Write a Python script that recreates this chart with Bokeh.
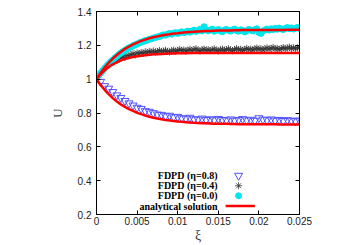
from bokeh.plotting import figure
from bokeh.models import Range1d, LinearAxis, FixedTicker, Label
from bokeh.embed import file_html
from bokeh.resources import INLINE

# ---------------- data ----------------
x_ticks = [0, 0.005, 0.01, 0.015, 0.02, 0.025]
x_tick_labels = ["0", "0.005", "0.01", "0.015", "0.02", "0.025"]
y_ticks = [0.2, 0.4, 0.6, 0.8, 1.0, 1.2, 1.4]
y_tick_labels = ["0.2", "0.4", "0.6", "0.8", "1", "1.2", "1.4"]

# analytical solution, sampled every 0.0005
xi_line = [i * 0.0005 for i in range(51)]
analytic_00 = [1.000, 1.037, 1.069, 1.097, 1.122, 1.143, 1.162, 1.179, 1.193, 1.205,
               1.216, 1.226, 1.234, 1.242, 1.248, 1.253, 1.258, 1.263, 1.266, 1.270,
               1.272, 1.275, 1.277, 1.279, 1.281, 1.282, 1.283, 1.284, 1.285, 1.286,
               1.287, 1.287, 1.288, 1.288, 1.289, 1.289, 1.290, 1.290, 1.290, 1.290,
               1.291, 1.291, 1.291, 1.291, 1.291, 1.291, 1.291, 1.292, 1.292, 1.292, 1.292]
analytic_04 = [1.000, 1.029, 1.053, 1.072, 1.088, 1.100, 1.111, 1.119, 1.126, 1.131,
               1.136, 1.139, 1.142, 1.145, 1.147, 1.148, 1.149, 1.150, 1.151, 1.152,
               1.153, 1.153, 1.153, 1.154, 1.154, 1.154, 1.154, 1.154, 1.155, 1.155,
               1.155, 1.155, 1.155, 1.155, 1.155, 1.155, 1.155, 1.155, 1.155, 1.155,
               1.155, 1.155, 1.155, 1.155, 1.155, 1.155, 1.155, 1.155, 1.155, 1.155, 1.155]
analytic_08 = [1.000, 0.966, 0.937, 0.911, 0.888, 0.868, 0.851, 0.836, 0.823, 0.812,
               0.801, 0.793, 0.785, 0.778, 0.772, 0.767, 0.763, 0.759, 0.756, 0.753,
               0.750, 0.748, 0.746, 0.744, 0.742, 0.741, 0.740, 0.739, 0.738, 0.737,
               0.737, 0.736, 0.736, 0.735, 0.735, 0.734, 0.734, 0.734, 0.734, 0.733,
               0.733, 0.733, 0.733, 0.733, 0.733, 0.732, 0.732, 0.732, 0.732, 0.732, 0.732]

# FDPD samples
xi_dense = [i * 0.00025 for i in range(101)]
fdpd_00 = [1.005, 1.022, 1.036, 1.050, 1.064, 1.078, 1.090, 1.103, 1.113, 1.125,
           1.135, 1.146, 1.154, 1.163, 1.170, 1.178, 1.186, 1.190, 1.198, 1.203,
           1.207, 1.214, 1.218, 1.222, 1.228, 1.230, 1.236, 1.238, 1.243, 1.246,
           1.250, 1.252, 1.258, 1.262, 1.260, 1.266, 1.270, 1.266, 1.272, 1.275,
           1.270, 1.276, 1.280, 1.275, 1.279, 1.284, 1.278, 1.283, 1.290, 1.282,
           1.287, 1.295, 1.285, 1.310, 1.292, 1.286, 1.290, 1.296, 1.283, 1.289,
           1.293, 1.285, 1.280, 1.290, 1.294, 1.288, 1.284, 1.291, 1.296, 1.287,
           1.283, 1.292, 1.288, 1.279, 1.286, 1.294, 1.290, 1.285, 1.293, 1.298,
           1.275, 1.270, 1.284, 1.291, 1.296, 1.290, 1.298, 1.293, 1.300, 1.295,
           1.302, 1.297, 1.293, 1.300, 1.305, 1.298, 1.303, 1.296, 1.301, 1.306, 1.300]
fdpd_04 = [1.000, 1.020, 1.035, 1.050, 1.062, 1.075, 1.083, 1.095, 1.098, 1.108,
           1.112, 1.120, 1.125, 1.131, 1.128, 1.140, 1.136, 1.145, 1.150, 1.142,
           1.155, 1.150, 1.158, 1.152, 1.162, 1.156, 1.165, 1.158, 1.167, 1.160,
           1.163, 1.170, 1.162, 1.166, 1.171, 1.164, 1.160, 1.168, 1.172, 1.165,
           1.170, 1.176, 1.168, 1.173, 1.166, 1.171, 1.177, 1.169, 1.174, 1.180,
           1.170, 1.166, 1.174, 1.178, 1.170, 1.175, 1.168, 1.173, 1.179, 1.171,
           1.166, 1.174, 1.178, 1.169, 1.175, 1.180, 1.172, 1.168, 1.176, 1.181,
           1.173, 1.177, 1.170, 1.176, 1.182, 1.174, 1.178, 1.172, 1.179, 1.184,
           1.176, 1.180, 1.173, 1.179, 1.185, 1.177, 1.182, 1.188, 1.178, 1.183,
           1.176, 1.181, 1.187, 1.179, 1.184, 1.190, 1.181, 1.186, 1.180, 1.185, 1.188]
xi_sparse = [i * 0.0005 for i in range(51)]
fdpd_08 = [1.000, 0.985, 0.960, 0.945, 0.925, 0.905, 0.890, 0.872, 0.858, 0.845,
           0.832, 0.825, 0.812, 0.808, 0.800, 0.792, 0.790, 0.782, 0.785, 0.776,
           0.778, 0.770, 0.768, 0.773, 0.764, 0.762, 0.768, 0.760, 0.764, 0.758,
           0.766, 0.760, 0.757, 0.763, 0.756, 0.760, 0.765, 0.757, 0.761, 0.755,
           0.770, 0.762, 0.758, 0.763, 0.756, 0.760, 0.754, 0.759, 0.756, 0.752, 0.757]

legend_labels = ["FDPD (\u03b7=0.8)", "FDPD (\u03b7=0.4)", "FDPD (\u03b7=0.0)", "analytical solution"]

# ---------------- styling / layout ----------------
BLUE = "#5050ff"
BLACK = "#333333"
CYAN = "#00e6ee"
RED = "#ff0000"
SANS = "Liberation Sans"
SERIF = "Liberation Serif"

p = figure(width=349, height=245, output_backend="svg", toolbar_location=None,
           x_range=Range1d(0, 0.025), y_range=Range1d(0.2, 1.4),
           min_border_left=96, min_border_right=50, min_border_top=11, min_border_bottom=31)
p.xgrid.visible = False
p.ygrid.visible = False
p.outline_line_color = "black"
p.outline_line_width = 1
p.background_fill_color = "white"
p.border_fill_color = "white"

def style_axis(ax, ticks, labels, show_labels=True):
    ax.ticker = FixedTicker(ticks=ticks)
    if show_labels:
        ax.major_label_overrides = {t: l for t, l in zip(ticks, labels)}
    else:
        ax.major_label_overrides = {t: "" for t in ticks}
        ax.major_label_standoff = 0
    ax.minor_tick_line_color = None
    ax.major_tick_in = 4
    ax.major_tick_out = 0
    ax.axis_line_color = "black"
    ax.major_tick_line_color = "black"
    ax.major_label_text_font = SANS
    ax.major_label_text_color = "#222222"
    ax.major_label_text_font_size = "10px"

style_axis(p.xaxis[0], x_ticks, x_tick_labels)
style_axis(p.yaxis[0], y_ticks, y_tick_labels)
p.xaxis[0].major_label_standoff = 2
p.xaxis[0].axis_label = "\u03be"
p.xaxis[0].axis_label_text_font = SERIF
p.xaxis[0].axis_label_text_font_style = "normal"
p.xaxis[0].axis_label_text_font_size = "14px"
p.xaxis[0].axis_label_standoff = 0
p.yaxis[0].major_label_standoff = 5
p.yaxis[0].axis_label = "U"
p.yaxis[0].axis_label_text_font = SERIF
p.yaxis[0].axis_label_text_font_style = "normal"
p.yaxis[0].axis_label_text_font_size = "13px"
p.yaxis[0].axis_label_standoff = 10

top_ax = LinearAxis()
style_axis(top_ax, x_ticks, x_tick_labels, show_labels=False)
p.add_layout(top_ax, "above")
right_ax = LinearAxis()
style_axis(right_ax, y_ticks, y_tick_labels, show_labels=False)
p.add_layout(right_ax, "right")

# data
p.scatter(xi_sparse, fdpd_08, marker="inverted_triangle", size=8, fill_color=None,
          line_color=BLUE, line_width=1)
p.scatter(xi_dense, fdpd_04, marker="asterisk", size=7, line_color=BLACK, line_width=0.8)
p.scatter(xi_dense, fdpd_00, marker="circle", size=6, fill_color=CYAN, line_color=CYAN)
for ys in (analytic_00, analytic_04, analytic_08):
    p.line(xi_line, ys, line_color=RED, line_width=2.5)

# legend (text right-aligned, sample to its right)
leg_text_x = 0.0149
leg_key_x = 0.0175
leg_rows = [0.430, 0.370, 0.311, 0.250]
for lab, yy in zip(legend_labels, leg_rows):
    p.add_layout(Label(x=leg_text_x, y=yy, text=lab, text_font=SERIF, text_font_style="bold",
                       text_font_size="10px", text_align="right", text_baseline="middle",
                       text_color="black"))
p.scatter([leg_key_x], [leg_rows[0]], marker="inverted_triangle", size=8, fill_color=None,
          line_color=BLUE, line_width=1)
p.scatter([leg_key_x], [leg_rows[1]], marker="asterisk", size=7, line_color=BLACK, line_width=0.8)
p.scatter([leg_key_x], [leg_rows[2]], marker="circle", size=6, fill_color=CYAN, line_color=CYAN)
p.line([0.0159, 0.0195], [leg_rows[3], leg_rows[3]], line_color=RED, line_width=2.5)

open("out.html", "w").write(file_html(p, INLINE))
